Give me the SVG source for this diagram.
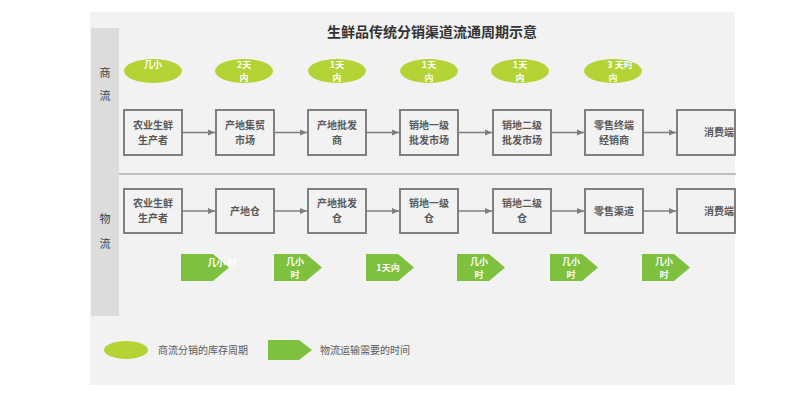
<svg xmlns="http://www.w3.org/2000/svg" width="800" height="403" viewBox="0 0 800 403">
<style>
text{font-family:"Noto Sans CJK SC","Liberation Sans",sans-serif;}
.box{fill:#f2f2f2;stroke:#7f7f7f;stroke-width:2}
.bt{font-size:10px;fill:#595959;text-anchor:middle;font-weight:bold}
.el{fill:#b4d334}
.pt{fill:#7ec13e}
.wt{font-size:9px;fill:#fff;text-anchor:middle;font-weight:bold}
.con{stroke:#7f7f7f;stroke-width:1.3;fill:none;marker-end:url(#ah)}
.side{font-size:11px;fill:#404040}
</style>
<defs>
<marker id="ah" markerWidth="8" markerHeight="8" refX="7" refY="4" orient="auto" markerUnits="userSpaceOnUse"><path d="M0,1 L7,4 L0,7 Z" fill="#7f7f7f"/></marker>
<path id="pent" d="M0,0 H32 L48,13.5 L32,27 H0 Z"/>
</defs>
<rect width="800" height="403" fill="#fff"/>
<rect x="90" y="12" width="645" height="373" fill="#f2f2f2"/>
<rect x="91" y="28" width="28" height="288" fill="#dcdcdc"/>
<text x="432" y="37" font-size="14" font-weight="bold" fill="#333" text-anchor="middle">生鲜品传统分销渠道流通周期示意</text>
<text class="side" x="105" y="77" text-anchor="middle">商</text>
<text class="side" x="105" y="100" text-anchor="middle">流</text>
<text class="side" x="105" y="223" text-anchor="middle">物</text>
<text class="side" x="105" y="248" text-anchor="middle">流</text>
<line x1="119" y1="174" x2="736" y2="174" stroke="#bfbfbf" stroke-width="2"/>
<g id="connectors">
<path class="con" d="M182,132.5 H215"/><path class="con" d="M274,132.5 H307"/><path class="con" d="M366,132.5 H399"/><path class="con" d="M458,132.5 H492"/><path class="con" d="M551,132.5 H584"/><path class="con" d="M643,132.5 H676"/>
<path class="con" d="M182,211 H215"/><path class="con" d="M274,211 H307"/><path class="con" d="M366,211 H399"/><path class="con" d="M458,211 H492"/><path class="con" d="M551,211 H584"/><path class="con" d="M643,211 H676"/>
</g>
<g id="c1"><rect class="box" x="124" y="110" width="58" height="45"/><text class="bt" x="153" y="129">农业生鲜</text><text class="bt" x="153" y="144">生产者</text></g>
<g id="c2"><rect class="box" x="216" y="110" width="58" height="45"/><text class="bt" x="245" y="129">产地集贸</text><text class="bt" x="245" y="144">市场</text></g>
<g id="c3"><rect class="box" x="308" y="110" width="58" height="45"/><text class="bt" x="337" y="129">产地批发</text><text class="bt" x="337" y="144">商</text></g>
<g id="c4"><rect class="box" x="400" y="110" width="58" height="45"/><text class="bt" x="429" y="129">销地一级</text><text class="bt" x="429" y="144">批发市场</text></g>
<g id="c5"><rect class="box" x="493" y="110" width="58" height="45"/><text class="bt" x="522" y="129">销地二级</text><text class="bt" x="522" y="144">批发市场</text></g>
<g id="c6"><rect class="box" x="585" y="110" width="58" height="45"/><text class="bt" x="614" y="129">零售终端</text><text class="bt" x="614" y="144">经销商</text></g>
<g id="c7"><rect class="box" x="677" y="110" width="58" height="45"/><text class="bt" x="719" y="136">消费端</text></g>
<g id="l1"><rect class="box" x="124" y="189" width="58" height="44"/><text class="bt" x="153" y="207">农业生鲜</text><text class="bt" x="153" y="222">生产者</text></g>
<g id="l2"><rect class="box" x="216" y="189" width="58" height="44"/><text class="bt" x="245" y="215">产地仓</text></g>
<g id="l3"><rect class="box" x="308" y="189" width="58" height="44"/><text class="bt" x="337" y="207">产地批发</text><text class="bt" x="337" y="222">仓</text></g>
<g id="l4"><rect class="box" x="400" y="189" width="58" height="44"/><text class="bt" x="429" y="207">销地一级</text><text class="bt" x="429" y="222">仓</text></g>
<g id="l5"><rect class="box" x="493" y="189" width="58" height="44"/><text class="bt" x="522" y="207">销地二级</text><text class="bt" x="522" y="222">仓</text></g>
<g id="l6"><rect class="box" x="585" y="189" width="58" height="44"/><text class="bt" x="614" y="215">零售渠道</text></g>
<g id="l7"><rect class="box" x="677" y="189" width="58" height="44"/><text class="bt" x="719" y="215">消费端</text></g>
<g id="e1"><ellipse class="el" cx="153" cy="71" rx="29" ry="12"/><text class="wt" x="153" y="68">几小</text></g>
<g id="e2"><ellipse class="el" cx="244" cy="71" rx="29" ry="12"/><text class="wt" x="244" y="68">2天</text><text class="wt" x="244" y="81">内</text></g>
<g id="e3"><ellipse class="el" cx="337" cy="71" rx="29" ry="12"/><text class="wt" x="337" y="68">1天</text><text class="wt" x="337" y="81">内</text></g>
<g id="e4"><ellipse class="el" cx="429" cy="71" rx="29" ry="12"/><text class="wt" x="429" y="68">1天</text><text class="wt" x="429" y="81">内</text></g>
<g id="e5"><ellipse class="el" cx="520" cy="71" rx="29" ry="12"/><text class="wt" x="520" y="68">1天</text><text class="wt" x="520" y="81">内</text></g>
<g id="e6"><ellipse class="el" cx="613" cy="71" rx="29" ry="12"/><text class="wt" x="620" y="68">3  天时</text><text class="wt" x="613" y="81">内</text></g>
<g id="p1"><use href="#pent" class="pt" x="181" y="254"/><text class="wt" x="222" y="266">几小 时</text></g>
<g id="p2"><use href="#pent" class="pt" x="274" y="254"/><text class="wt" x="295" y="265">几小</text><text class="wt" x="295" y="278">时</text></g>
<g id="p3"><use href="#pent" class="pt" x="366" y="254"/><text class="wt" x="388" y="271">1天内</text></g>
<g id="p4"><use href="#pent" class="pt" x="457" y="254"/><text class="wt" x="479" y="265">几小</text><text class="wt" x="479" y="278">时</text></g>
<g id="p5"><use href="#pent" class="pt" x="550" y="254"/><text class="wt" x="571" y="265">几小</text><text class="wt" x="571" y="278">时</text></g>
<g id="p6"><use href="#pent" class="pt" x="642" y="254"/><text class="wt" x="664" y="265">几小</text><text class="wt" x="664" y="278">时</text></g>
<g id="legend1"><ellipse class="el" cx="126" cy="350" rx="22" ry="9"/><text x="158" y="354" font-size="10" fill="#595959">商流分销的库存周期</text></g>
<g id="legend2"><path class="pt" d="M268,340 H299 L312,350 L299,360 H268 Z"/><text x="320" y="354" font-size="10" fill="#595959">物流运输需要的时间</text></g>
</svg>
